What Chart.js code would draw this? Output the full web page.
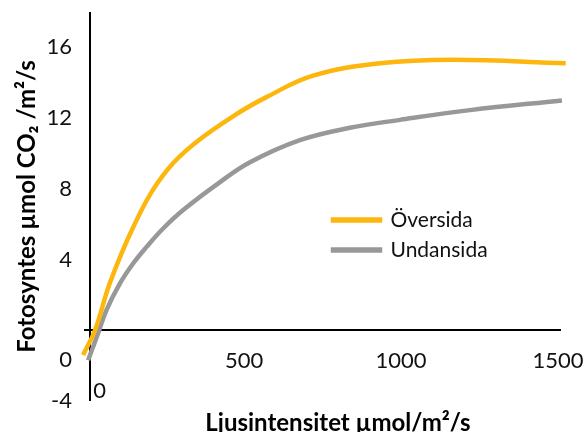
<!DOCTYPE html>
<html>
<head>
<meta charset="utf-8">
<script src="https://cdn.jsdelivr.net/npm/chart.js@4.4.0/dist/chart.umd.min.js"></script>
<style>
  html, body { margin: 0; padding: 0; background: #fff; }
  #wrap { width: 585px; height: 432px; position: relative; }
</style>
</head>
<body>
<div id="wrap"><canvas id="chart"></canvas></div>
<script>
  // values
  const seriesNames = ['Översida', 'Undansida'];
  const oversidaX = [-23, 15, 63, 136, 213, 308, 455, 563, 710, 924, 1156, 1515];
  const oversidaY = [-1.4, 0, 2.7, 5.8, 8.3, 10.2, 12.1, 13.2, 14.4, 15.1, 15.3, 15.1];
  const undansidaX = [-7, 21, 52, 95, 137, 180, 233, 296, 408, 509, 668, 827, 987, 1210, 1503];
  const undansidaY = [-1.7, -0.36, 1.15, 2.66, 3.79, 4.73, 5.77, 6.8, 8.31, 9.5, 10.75, 11.45, 11.9, 12.45, 13.0];
  const xTicks = [0, 500, 1000, 1500];
  const yTicks = [-4, 0, 4, 8, 12, 16];
  const xTitle = 'Ljusintensitet µmol/m²/s';
  const yTitle = 'Fotosyntes µmol CO₂ /m²/s';

  const colors = ['#FDB60E', '#989898'];

  function toPoints(xs, ys) {
    return xs.map((x, i) => ({ x, y: ys[i] }));
  }

  function zeroOnly(ctx) {
    return ctx.tick && ctx.tick.value === 0 ? '#000' : 'rgba(0,0,0,0)';
  }

  Chart.defaults.font.family = 'Lato, "Noto Sans", sans-serif';
  Chart.defaults.color = '#111';

  // the two zero labels sit apart from the other tick labels in the original
  const zeroLabels = {
    id: 'zeroLabels',
    afterDraw(chart) {
      const { ctx, scales: { x, y } } = chart;
      const y0 = y.getPixelForValue(0);
      ctx.save();
      ctx.font = '22px Lato, "Noto Sans", sans-serif';
      ctx.fillStyle = '#111';
      ctx.textBaseline = 'middle';
      ctx.textAlign = 'right';
      ctx.fillText('0', y.right - 12, y0 + 30);
      ctx.textAlign = 'left';
      ctx.fillText('0', x.getPixelForValue(0) + 3, y0 + 61);
      ctx.restore();
    },
  };

  // legend inside the plot, and the x title nudged right like the original
  const placeBoxes = {
    id: 'placeBoxes',
    afterLayout(chart) {
      const lg = chart.legend;
      if (lg) {
        const w = lg.width;
        const h = lg.height;
        lg.left = 324;
        lg.top = 200.5;
        lg.right = lg.left + w;
        lg.bottom = lg.top + h;
      }
      chart.scales.x.right += 31;
    },
  };

  new Chart(document.getElementById('chart'), {
    type: 'line',
    data: {
      datasets: [
        {
          label: seriesNames[0],
          data: toPoints(oversidaX, oversidaY),
          borderColor: colors[0],
          backgroundColor: colors[0],
          borderWidth: 4.5,
          pointRadius: 0,
          tension: 0.4,
          clip: false,
        },
        {
          label: seriesNames[1],
          data: toPoints(undansidaX, undansidaY),
          borderColor: colors[1],
          backgroundColor: colors[1],
          borderWidth: 4.5,
          pointRadius: 0,
          tension: 0.4,
          clip: false,
        },
      ],
    },
    options: {
      responsive: true,
      maintainAspectRatio: false,
      animation: false,
      layout: { padding: { left: 0, right: 24, top: 12, bottom: 31 } },
      plugins: {
        tooltip: { enabled: false },
        legend: {
          position: 'chartArea',
          align: 'start',
          labels: {
            boxWidth: 47,
            boxHeight: 1,
            padding: 9,
            color: '#111',
            font: { size: 21 },
          },
        },
      },
      scales: {
        x: {
          type: 'linear',
          position: { y: 0 },
          min: -20,
          max: 1500,
          afterBuildTicks(scale) {
            scale.ticks = xTicks.map((value) => ({ value }));
          },
          afterFit(scale) {
            scale.paddingLeft = 0;
            scale.paddingRight = 0;
          },
          border: { display: false },
          grid: { drawTicks: false, lineWidth: 2, color: zeroOnly },
          ticks: {
            padding: 17,
            labelOffset: -3,
            maxRotation: 0,
            autoSkip: false,
            font: { size: 22 },
            color: '#111',
            callback: (value) => (value === 0 ? '' : String(value)),
          },
          title: {
            display: true,
            text: xTitle,
            color: '#000',
            font: { size: 24, weight: 'bold' },
            padding: { top: 18, bottom: 0 },
          },
        },
        y: {
          type: 'linear',
          position: 'left',
          min: -4,
          max: 18,
          afterBuildTicks(scale) {
            scale.ticks = yTicks.map((value) => ({ value }));
          },
          afterFit(scale) {
            scale.width = 84;
            scale.paddingTop = 0;
            scale.paddingBottom = 0;
          },
          border: { display: false },
          grid: { drawTicks: false, lineWidth: 2, color: zeroOnly },
          ticks: {
            padding: 12,
            font: { size: 22 },
            color: '#111',
            callback: (value) => (value === 0 ? '' : String(value)),
          },
          title: {
            display: true,
            text: yTitle,
            color: '#000',
            font: { size: 24, weight: 'bold' },
            padding: { top: 13, bottom: 0 },
          },
        },
      },
    },
    plugins: [zeroLabels, placeBoxes],
  });
</script>
</body>
</html>
